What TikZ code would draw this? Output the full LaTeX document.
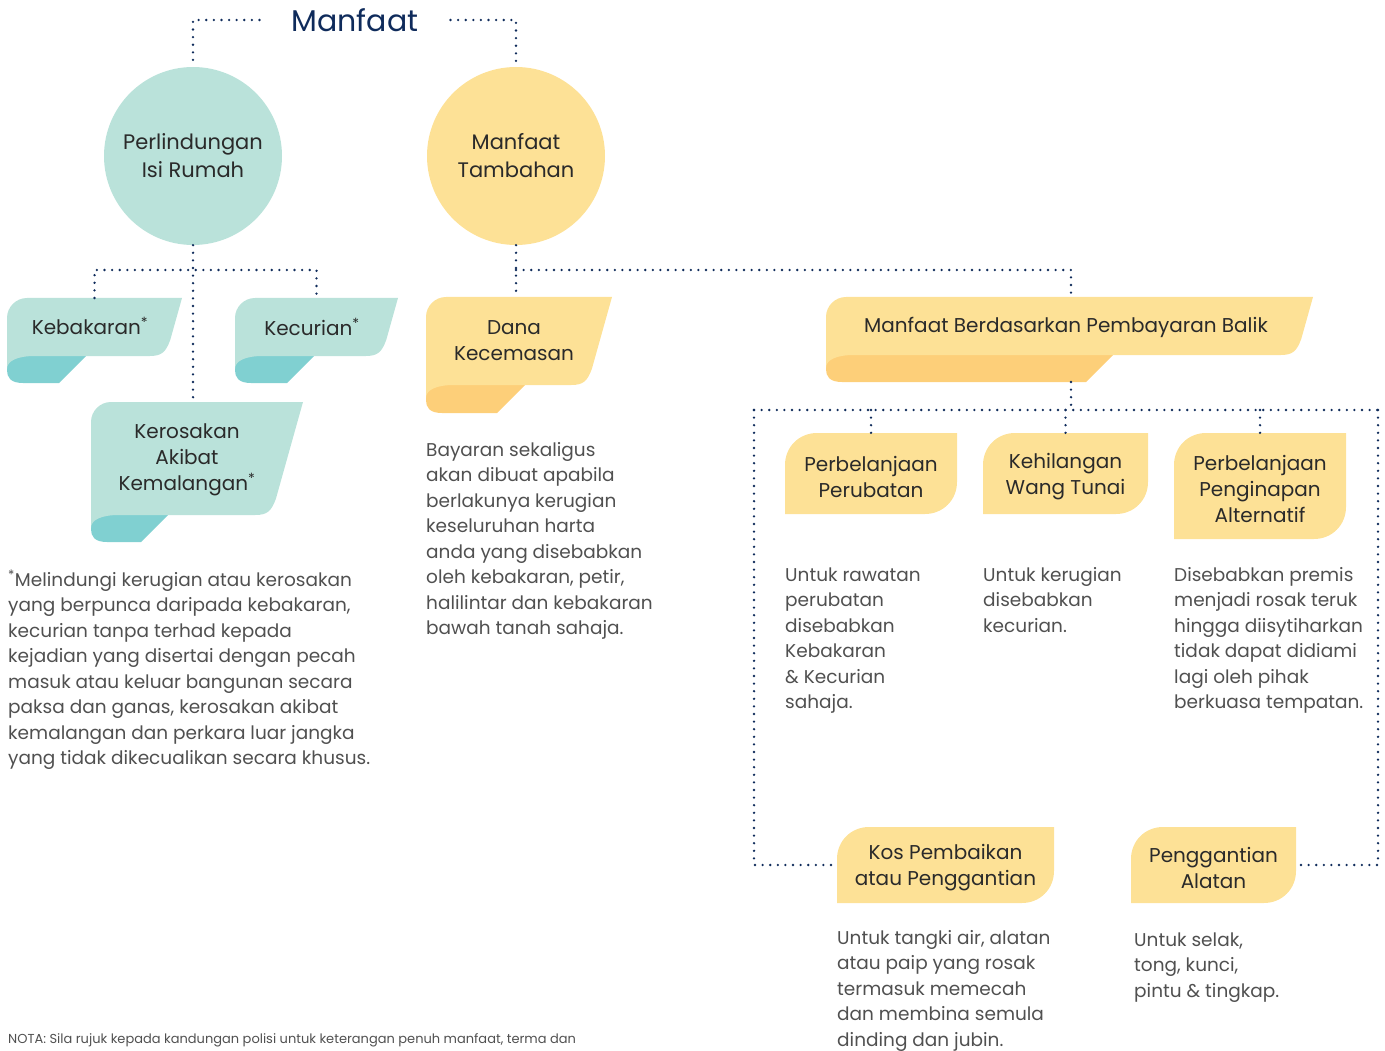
\documentclass[tikz,border=0pt]{standalone}
\usepackage{fontspec}
\setmainfont{Poppins}
\usetikzlibrary{positioning}
\usetikzlibrary{calc}

\definecolor{navy}{HTML}{0F2B5B}
\definecolor{ink}{HTML}{2A2A2A}
\definecolor{greytext}{HTML}{505050}
\definecolor{mintbody}{HTML}{BAE2DA}
\definecolor{mintfold}{HTML}{80D0D1}
\definecolor{sunbody}{HTML}{FDE196}
\definecolor{sunfold}{HTML}{FDCF79}

% ribbon: name, left, top, right, bottom, fold bottom, fold right, colour
\newcommand{\ribbon}[8]{%
  \fill[#8fold] (#7,#5-2) -- ({#7-(#6-#5+2)},#6) -- (#2+16,#6) .. controls (#2+3,#6) and (#2,#6-6) .. (#2,#6-13) -- (#2,#5-2) -- cycle;
  \fill[#8body] (#2,#5+13) -- (#2,#3+20) .. controls (#2,#3+9) and (#2+9,#3) .. (#2+20,#3) -- (#4,#3)
    -- ({#4-0.28*(#5-#3-16)},#5-16) .. controls ({#4-0.28*(#5-#3)},#5-4) and ({#4-0.28*(#5-#3)-4},#5) .. ({#4-0.28*(#5-#3)-16},#5)
    -- (#2+28,#5) .. controls (#2+10,#5) and (#2,#5+5) .. (#2,#5+13) -- cycle;
  \coordinate (#1t) at ({(#2+#4)/2},#3);
  \coordinate (#1b) at ({(#2+#4)/2},#6);
}
% sunbox: name, left, top, right, bottom, text
\newcommand{\sunbox}[6]{%
  \fill[sunbody] (#2,#3+32) .. controls (#2,#3+14) and (#2+14,#3) .. (#2+32,#3) -- (#4,#3) -- (#4,#5-32)
    .. controls (#4,#5-14) and (#4-14,#5) .. (#4-32,#5) -- (#2,#5) -- cycle;
  \node[label] (#1) at ({(#2+#4)/2},{(#3+#5)/2+3}) {#6};
  \coordinate (#1t) at ({(#2+#4)/2},#3);
  \coordinate (#1l) at (#2,{(#3+#5)/2});
  \coordinate (#1r) at (#4,{(#3+#5)/2});
}

\tikzset{
  label/.style={text=ink, align=center, inner sep=0pt, font=\fontsize{20}{26}\selectfont},
  desc/.style={text=greytext, align=left, anchor=base west, inner sep=0pt, font=\fontsize{18.5}{25.5}\selectfont},
  linkdots/.style={navy, line width=2.6pt, line cap=round, dash pattern=on 0pt off 7.6pt},
}

\begin{document}
\begin{tikzpicture}[x=1pt,y=-1pt]
\useasboundingbox (0,0) rectangle (1385,1051);

% top level
\node[text=navy, inner xsep=32pt, font=\fontsize{30}{36}\selectfont] (title) at (355,20) {Manfaat};
\node[circle, fill=mintbody, minimum size=178pt, label, font=\fontsize{21}{28}\selectfont] (perl) at (193,156) {Perlindungan\\Isi Rumah};
\node[circle, fill=sunbody, minimum size=178pt, label, font=\fontsize{21}{28}\selectfont] (tambah) at (516,156) {Manfaat\\Tambahan};
\draw[linkdots] (title.west) -| (perl.north);
\draw[linkdots] (title.east) -| (tambah.north);

% ribbons
\ribbon{keb}{7}{298}{182}{356}{383}{88}{mint}
\ribbon{kec}{235}{298}{398}{356}{383}{316}{mint}
\ribbon{ker}{91}{402}{303}{515}{542}{170}{mint}
\ribbon{dana}{426}{297}{612}{385}{413}{527}{sun}
\ribbon{mb}{826}{297}{1313}{355}{382}{1115}{sun}
\node[label] (kebakaran) at (90,326) {Kebakaran\textsuperscript{*}};
\node[label] (kecurian) at (312,327) {Kecurian\textsuperscript{*}};
\node[label] (kerosakan) at (187,460) {Kerosakan\\Akibat\\Kemalangan\textsuperscript{*}};
\node[label] (dana) at (514,341) {Dana\\Kecemasan};
\node[label] (balik) at (1066,327) {Manfaat Berdasarkan Pembayaran Balik};

% branches
\coordinate (split) at (0,270);
\draw[linkdots] (perl.south) -- (perl.south |- kert);
\draw[linkdots] (kebt) -- (kebt |- split) -- (kect |- split) -- (kect);
\draw[linkdots] (tambah.south) -- (tambah.south |- danat);
\draw[linkdots] (tambah.south |- split) -- (split -| 1071,0) -- (1071,297);

% reimbursement boxes
\sunbox{ubat}{785}{433}{957}{514}{Perbelanjaan\\Perubatan}
\sunbox{tunai}{983}{433}{1148}{514}{Kehilangan\\Wang Tunai}
\sunbox{inap}{1174}{433}{1346}{539}{Perbelanjaan\\Penginapan\\Alternatif}
\sunbox{kos}{837}{827}{1054}{903}{Kos Pembaikan\\atau Penggantian}
\sunbox{alat}{1131}{827}{1296}{903}{Penggantian\\Alatan}

\coordinate (railL) at (754,410);
\coordinate (railR) at (1378,410);
\draw[linkdots] (1071,382) -- (1071,410);
\draw[linkdots] (railL) -- (railR);
\draw[linkdots] (ubatt |- railL) -- (ubatt);
\draw[linkdots] (tunait |- railL) -- (tunait);
\draw[linkdots] (inapt |- railL) -- (inapt);
\draw[linkdots] (railL) |- (kosl);
\draw[linkdots] (railR) |- (alatr);

% descriptions (placed at the baseline of their last line)
\node[desc] (notakeb) at (8,764.5) {\textsuperscript{*}Melindungi kerugian atau kerosakan\\yang berpunca daripada kebakaran,\\kecurian tanpa terhad kepada\\kejadian yang disertai dengan pecah\\masuk atau keluar bangunan secara\\paksa dan ganas, kerosakan akibat\\kemalangan dan perkara luar jangka\\yang tidak dikecualikan secara khusus.};
\node[desc] (danadesc) at (426,634.5) {Bayaran sekaligus\\akan dibuat apabila\\berlakunya kerugian\\keseluruhan harta\\anda yang disebabkan\\oleh kebakaran, petir,\\halilintar dan kebakaran\\bawah tanah sahaja.};
\node[desc] (ubatdesc) at (785,708.5) {Untuk rawatan\\perubatan\\disebabkan\\Kebakaran\\\& Kecurian\\sahaja.};
\node[desc] (tunaidesc) at (983,632) {Untuk kerugian\\disebabkan\\kecurian.};
\node[desc] (inapdesc) at (1174,708.5) {Disebabkan premis\\menjadi rosak teruk\\hingga diisytiharkan\\tidak dapat didiami\\lagi oleh pihak\\berkuasa tempatan.};
\node[desc] (kosdesc) at (837,1046) {Untuk tangki air, alatan\\atau paip yang rosak\\termasuk memecah\\dan membina semula\\dinding dan jubin.};
\node[desc] (alatdesc) at (1134,997) {Untuk selak,\\tong, kunci,\\pintu \& tingkap.};
\node[desc, font=\fontsize{13}{16}\selectfont] (nota) at (8,1043) {NOTA: Sila rujuk kepada kandungan polisi untuk keterangan penuh manfaat, terma dan};
\end{tikzpicture}
\end{document}
